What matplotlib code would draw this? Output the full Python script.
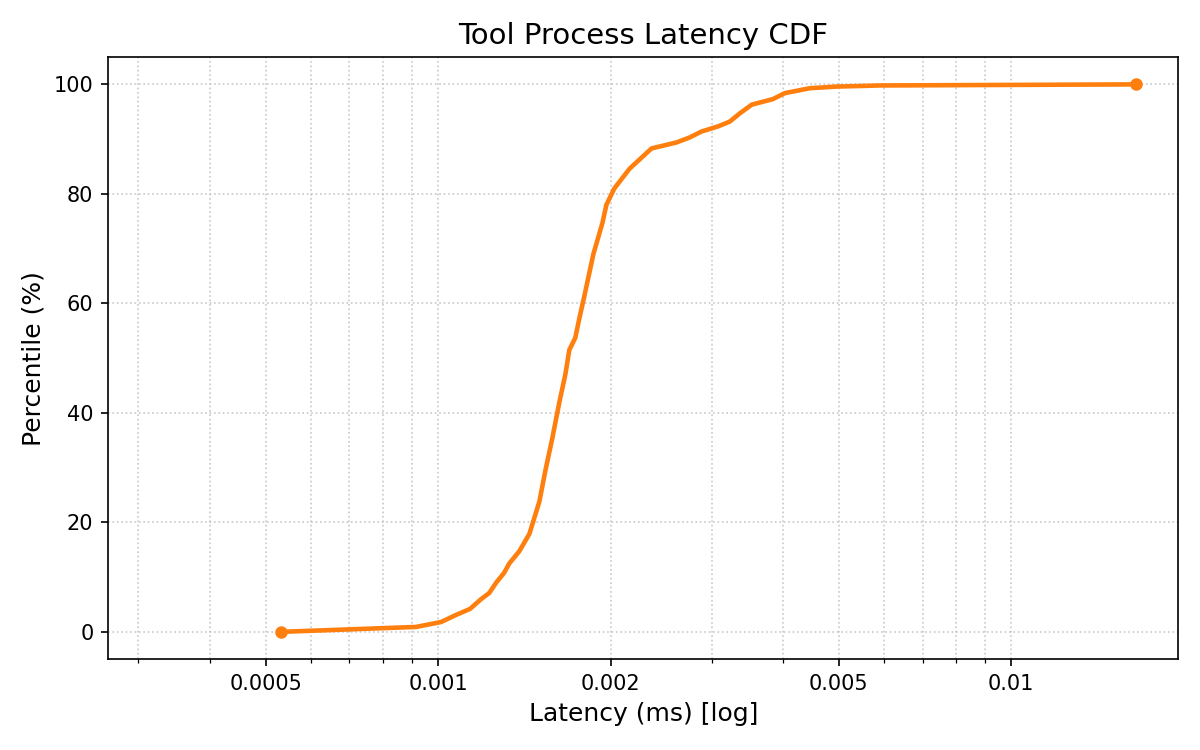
import numpy as np
import matplotlib
matplotlib.use('Agg')
import matplotlib.pyplot as plt
from matplotlib.ticker import NullFormatter, LogLocator

# latency (ms) and percentile
latency = [0.000531, 0.000915, 0.001012, 0.001075, 0.001137, 0.001189, 0.001228,
           0.001263, 0.001304, 0.001331, 0.001385, 0.001443, 0.001502, 0.001539,
           0.001583, 0.001628, 0.001667, 0.001694, 0.001735, 0.001764, 0.001800,
           0.001866, 0.001935, 0.001966, 0.002030, 0.002158, 0.002357, 0.002607,
           0.002747, 0.002883, 0.003074, 0.003227, 0.003360, 0.003526, 0.003836,
           0.004026, 0.004453, 0.004965, 0.005902, 0.01648]
percentile = [0.0, 0.9, 1.8, 3.1, 4.2, 6.0, 7.1,
              9.0, 10.8, 12.5, 14.7, 17.9, 23.8, 29.5,
              35.5, 42.0, 47.0, 51.5, 53.7, 57.3, 61.4,
              69.0, 74.7, 78.0, 81.0, 84.6, 88.3, 89.4,
              90.3, 91.4, 92.3, 93.2, 94.7, 96.3, 97.3,
              98.4, 99.3, 99.6, 99.8, 100.0]
tick_vals = [0.0005, 0.001, 0.002, 0.005, 0.01]
tick_labels = ['0.0005', '0.001', '0.002', '0.005', '0.01']

fig, ax = plt.subplots(figsize=(8, 5), dpi=150)
fig.subplots_adjust(left=0.09, right=0.982, top=0.924, bottom=0.121)

ax.plot(latency, percentile, color='#ff7f0e', linewidth=2.2,
        marker='o', markersize=5, markevery=[0, len(latency) - 1])
ax.set_xscale('log')
ax.set_xlim(left=min(latency) * 0.5)
ax.set_ylim(-5, 105)

ax.set_xticks(tick_vals)
ax.set_xticklabels(tick_labels)
ax.xaxis.set_minor_locator(LogLocator(base=10, subs=np.arange(2, 10)))
ax.xaxis.set_minor_formatter(NullFormatter())

ax.grid(True, which='both', linestyle=':', color='#bbbbbb', linewidth=0.8, alpha=0.8)

ax.set_title('Tool Process Latency CDF', fontsize=14)
ax.set_xlabel('Latency (ms) [log]', fontsize=12)
ax.set_ylabel('Percentile (%)', fontsize=12)

fig.savefig('out.png', dpi=150)
